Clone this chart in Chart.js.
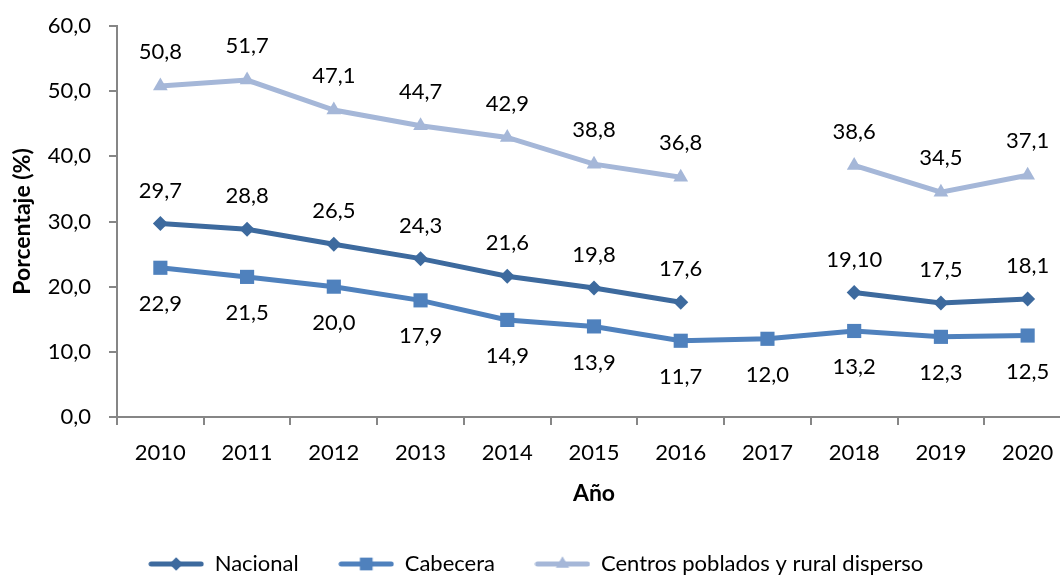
<!DOCTYPE html>
<html>
<head>
<meta charset="utf-8">
<script src="https://cdn.jsdelivr.net/npm/chart.js@4.4.1/dist/chart.umd.min.js"></script>
<style>
  html, body { margin: 0; padding: 0; background: #fff; }
  #wrap { width: 1060px; height: 576px; overflow: hidden; position: relative; }
  canvas { display: block; }
</style>
</head>
<body>
<div id="wrap"><canvas id="c" width="1081" height="576"></canvas></div>
<script>
const years = ['2010','2011','2012','2013','2014','2015','2016','2017','2018','2019','2020'];
const nacional = [29.7, 28.8, 26.5, 24.3, 21.6, 19.8, 17.6, null, 19.1, 17.5, 18.1];
const nacionalLabels = ['29,7','28,8','26,5','24,3','21,6','19,8','17,6','','19,10','17,5','18,1'];
const cabecera = [22.9, 21.5, 20.0, 17.9, 14.9, 13.9, 11.7, 12.0, 13.2, 12.3, 12.5];
const centros = [50.8, 51.7, 47.1, 44.7, 42.9, 38.8, 36.8, null, 38.6, 34.5, 37.1];
const seriesNames = ['Nacional', 'Cabecera', 'Centros poblados y rural disperso'];

const FONT = 'Lato, "Open Sans", sans-serif';
const AXIS = '#868686';
const colors = ['#3D6A9E', '#4F81BD', '#A5B7D8'];

function fmt(v) { return v.toFixed(1).replace('.', ','); }

function drawMarker(ctx, style, x, y, r) {
  ctx.beginPath();
  if (style === 'rectRot') {
    ctx.moveTo(x - r, y); ctx.lineTo(x, y - r); ctx.lineTo(x + r, y); ctx.lineTo(x, y + r);
  } else if (style === 'rect') {
    const s = r * Math.SQRT1_2; ctx.rect(x - s, y - s, 2 * s, 2 * s);
  } else {
    for (let k = 0; k < 3; k++) {
      const a = k * 2 * Math.PI / 3;
      const px = x + Math.sin(a) * r, py = y - Math.cos(a) * r;
      if (k === 0) ctx.moveTo(px, py); else ctx.lineTo(px, py);
    }
  }
  ctx.closePath();
  ctx.fill();
}

function makeSample(color, style, r) {
  const c = document.createElement('canvas');
  c.width = 56; c.height = 20;
  const ctx = c.getContext('2d');
  ctx.strokeStyle = color; ctx.fillStyle = color;
  ctx.lineWidth = 5; ctx.lineCap = 'round';
  ctx.beginPath(); ctx.moveTo(3, 10); ctx.lineTo(53, 10); ctx.stroke();
  drawMarker(ctx, style, 28, 10, r);
  return c;
}

const labelPlugin = {
  id: 'valueLabels',
  afterLayout(chart) {
    // keep the legend centred on the visible 1060px frame
    if (chart.legend) { chart.legend.left -= 4; chart.legend.right -= 4; }
  },
  afterDatasetsDraw(chart) {
    const ctx = chart.ctx;
    ctx.save();
    ctx.font = '22px ' + FONT;
    ctx.fillStyle = '#000';
    ctx.textAlign = 'center';
    ctx.textBaseline = 'middle';
    chart.data.datasets.forEach((ds, di) => {
      const meta = chart.getDatasetMeta(di);
      meta.data.forEach((pt, i) => {
        const v = ds.data[i];
        if (v === null || v === undefined) return;
        const txt = ds.valueLabels ? ds.valueLabels[i] : fmt(v);
        ctx.fillText(txt, pt.x, pt.y + ds.labelOffset);
      });
    });
    ctx.restore();
  }
};

const styles = ['rectRot', 'rect', 'triangle'];
const radii = [7.5, 10, 8.5];
const dataArrays = [nacional, cabecera, centros];
const offsets = [-33, 36, -34];

const datasets = dataArrays.map((d, i) => ({
  label: seriesNames[i],
  data: d,
  borderColor: colors[i],
  backgroundColor: colors[i],
  borderWidth: 5,
  pointStyle: styles[i],
  pointRadius: radii[i],
  pointHoverRadius: radii[i],
  pointBorderWidth: 0,
  pointBackgroundColor: colors[i],
  tension: 0,
  spanGaps: false,
  labelOffset: offsets[i],
  valueLabels: i === 0 ? nacionalLabels : null
}));

new Chart(document.getElementById('c'), {
  type: 'line',
  data: { labels: years, datasets: datasets },
  plugins: [labelPlugin],
  options: {
    responsive: false,
    devicePixelRatio: 1,
    animation: false,
    layout: { padding: { top: 26, right: 1, bottom: 0, left: 0 } },
    plugins: {
      tooltip: { enabled: false },
      legend: {
        position: 'bottom',
        maxHeight: 63,
        labels: {
          usePointStyle: true,
          pointStyleWidth: 55,
          padding: 40,
          color: '#000',
          font: { family: FONT, size: 22 },
          generateLabels(chart) {
            return chart.data.datasets.map((ds, i) => ({
              text: ds.label,
              datasetIndex: i,
              pointStyle: makeSample(colors[i], styles[i], radii[i] * 0.9),
              fillStyle: colors[i],
              strokeStyle: colors[i],
              lineWidth: 0,
              hidden: false,
              fontColor: '#000'
            }));
          }
        }
      }
    },
    scales: {
      x: {
        offset: true,
        grid: { display: true, offset: true, drawOnChartArea: false, drawTicks: true, tickLength: 8, color: AXIS, lineWidth: 2 },
        border: { display: true, color: AXIS, width: 2 },
        ticks: { color: '#000', font: { family: FONT, size: 22 }, padding: 15, maxRotation: 0, autoSkip: false },
        title: { display: true, text: 'Año', color: '#000', font: { family: FONT, size: 23, weight: 'bold' }, padding: { top: 0, bottom: 6 } },
        afterFit(scale) { scale.height = 96; scale.paddingLeft = 0; scale.paddingRight = 0; }
      },
      y: {
        min: 0, max: 60,
        ticks: { stepSize: 10, color: '#000', font: { family: FONT, size: 22 }, padding: 18, callback: (v) => fmt(v) },
        grid: { display: true, drawOnChartArea: false, drawTicks: true, tickLength: 8, color: AXIS, lineWidth: 2 },
        border: { display: true, color: AXIS, width: 2 },
        title: { display: true, text: 'Porcentaje (%)', color: '#000', font: { family: FONT, size: 23, weight: 'bold' }, padding: { top: 9, bottom: 0 } },
        afterFit(scale) { scale.width = 117; scale.paddingTop = 0; scale.paddingBottom = 0; }
      }
    }
  }
});
</script>
</body>
</html>
